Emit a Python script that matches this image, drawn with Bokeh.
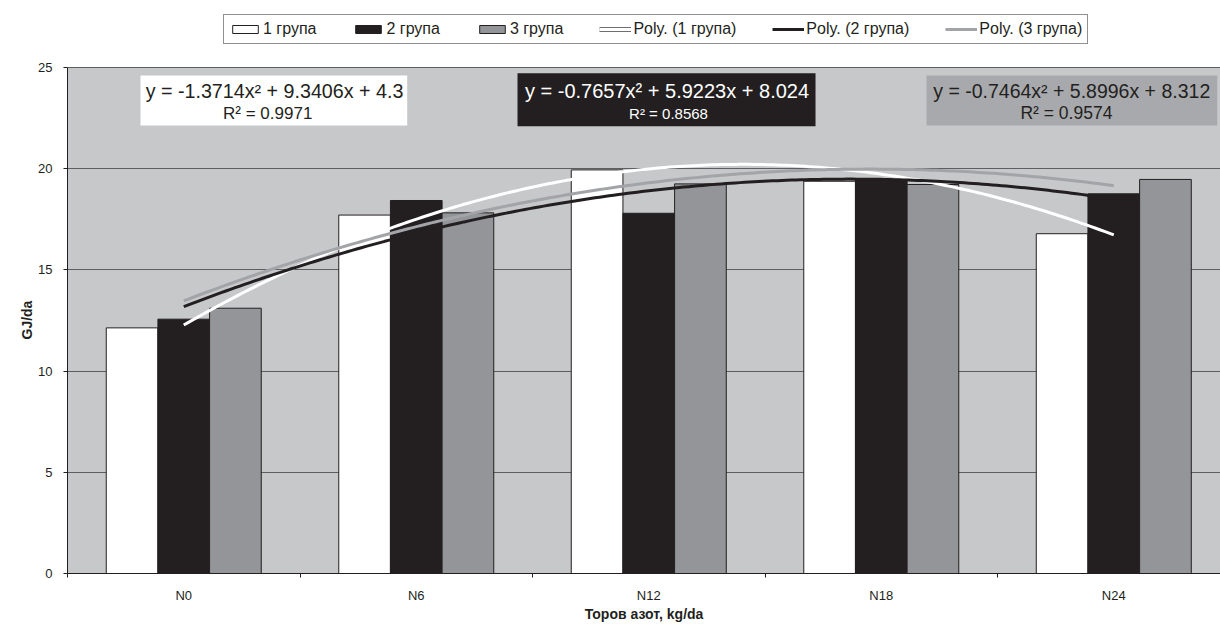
import numpy as np
from bokeh.plotting import figure
from bokeh.models import (Range1d, FixedTicker, Legend, LegendItem,
                          BoxAnnotation, Label, Title)
from bokeh.embed import file_html
from bokeh.resources import INLINE

# ---------------- data ----------------
categories = ["N0", "N6", "N12", "N18", "N24"]
series_names = ["1 група", "2 група", "3 група"]
group1 = [12.13, 17.70, 19.93, 19.37, 16.78]
group2 = [12.56, 18.42, 17.79, 19.44, 18.75]
group3 = [13.10, 17.81, 19.24, 19.21, 19.46]
# polynomial trend lines (a*x^2 + b*x + c, x = category number 1..5)
trend1 = [-1.3714, 9.3406, 4.3]
trend2 = [-0.7657, 5.9223, 8.024]
trend3 = [-0.7464, 5.8996, 8.312]
r_squared = [0.9971, 0.8568, 0.9574]
y_ticks = [0, 5, 10, 15, 20, 25]

# ---------------- styles ----------------
BG = "#c7c8ca"
DARK = "#231f20"
GRID = "#5d5e60"
BAR_COLORS = ["#ffffff", "#231f20", "#939598"]
LINE_COLORS = ["#ffffff", "#231f20", "#a2a4a7"]
FONT = "Liberation Sans"

n = len(categories)
bar_w = 1 / 4.5
centers = np.arange(n) + 0.5
Y_MAX = y_ticks[-1]
# frame spans whole page height down to the x axis; extra headroom holds the legend
Y_TOP = 573 / 20.25

p = figure(width=1220, height=630,
           x_range=Range1d(0, 4.959), y_range=Range1d(0, Y_TOP),
           output_backend="svg", toolbar_location=None,
           min_border_left=67, min_border_right=0,
           min_border_top=0, min_border_bottom=57,
           background_fill_color="white", border_fill_color="white",
           outline_line_color=None)

# grey plot area (0..25)
p.add_layout(BoxAnnotation(bottom=0, top=Y_MAX, fill_color=BG, fill_alpha=1,
                           line_color=None, level="image"))

# axes
p.xaxis.ticker = FixedTicker(ticks=list(centers), minor_ticks=list(range(n + 1)))
p.xaxis.major_label_overrides = {float(c): lab for c, lab in zip(centers, categories)}
p.xaxis.major_tick_out = 0
p.xaxis.major_tick_in = 0
p.xaxis.minor_tick_out = 4
p.xaxis.minor_tick_in = 0
p.xaxis.minor_tick_line_color = DARK
p.xaxis.major_label_standoff = 10
p.xaxis.axis_label = "Торов азот, kg/da"
p.xaxis.axis_label_standoff = 0

p.yaxis.ticker = FixedTicker(ticks=y_ticks)
p.yaxis.bounds = (0, Y_MAX)
p.yaxis.major_tick_out = 4
p.yaxis.major_tick_in = 0
p.yaxis.minor_tick_line_color = None
p.yaxis.major_label_standoff = 11

for ax in (p.xaxis[0], p.yaxis[0]):
    ax.axis_line_color = DARK
    ax.major_tick_line_color = DARK
    ax.major_label_text_font = FONT
    ax.major_label_text_font_size = "13px"
    ax.major_label_text_color = DARK
    ax.axis_label_text_font = FONT
    ax.axis_label_text_font_size = "14px"
    ax.axis_label_text_font_style = "bold"
    ax.axis_label_text_color = DARK

# y axis title, started from the bottom so that it is centred on 0..25
p.add_layout(Title(text="GJ/da", align="left", offset=234, standoff=2,
                   text_font=FONT, text_font_size="14px",
                   text_font_style="bold", text_color=DARK), "left")

p.xgrid.visible = False
p.ygrid.ticker = FixedTicker(ticks=y_ticks)
p.ygrid.grid_line_color = GRID
p.ygrid.grid_line_width = 1

# bars
bar_renderers = []
for k, vals in enumerate([group1, group2, group3]):
    r = p.vbar(x=centers + (k - 1) * bar_w, top=vals, bottom=0, width=bar_w,
               fill_color=BAR_COLORS[k], line_color=DARK, line_width=1)
    bar_renderers.append(r)

# trend lines
t = np.linspace(1, n, 200)
curves = []
line_renderers = []
for k, (a, b, c) in enumerate([trend1, trend2, trend3]):
    yv = a * t ** 2 + b * t + c
    curves.append(yv)
    r = p.line(x=t - 0.5, y=yv, line_color=LINE_COLORS[k], line_width=3)
    line_renderers.append(r)

# outline for the white legend line (single point -> nothing drawn in the plot)
outline = p.line(x=[t[0] - 0.5], y=[curves[0][0]], line_color="#6d6e70", line_width=5)

items = [LegendItem(label=series_names[k], renderers=[bar_renderers[k]]) for k in range(3)]
items.append(LegendItem(label=f"Poly. ({series_names[0]})", renderers=[outline, line_renderers[0]]))
items.append(LegendItem(label=f"Poly. ({series_names[1]})", renderers=[line_renderers[1]]))
items.append(LegendItem(label=f"Poly. ({series_names[2]})", renderers=[line_renderers[2]]))

legend = Legend(items=items, orientation="horizontal", location=(156, 529),
                margin=0, padding=5, spacing=36,
                glyph_width=32, glyph_height=10, label_standoff=2,
                label_height=18, label_width=10,
                label_text_font=FONT, label_text_font_size="16px",
                label_text_color=DARK,
                border_line_color=DARK, border_line_width=1,
                background_fill_color="white", background_fill_alpha=1)
p.add_layout(legend)

# equation boxes (position in data units: x in category widths, y in GJ/da)
px = lambda v: (v - 67) / 232.5
py = lambda v: (573 - v) / 20.25
boxes = [
    dict(l=140, r=406.7, t=75, b=125, fill="#ffffff", txt=DARK,
         l1=(274, 90, "19.7px"), l2=(267.2, 112.7, "17px")),
    dict(l=517, r=815, t=72.7, b=125.7, fill=DARK, txt="#ffffff",
         l1=(666.5, 90.7, "20px"), l2=(668, 112.7, "15px")),
    dict(l=926, r=1216.7, t=75, b=125, fill="#a7a9ac", txt=DARK,
         l1=(1071.2, 90.7, "19.5px"), l2=(1065.9, 112.7, "17.5px")),
]
for k, (bx, coef) in enumerate(zip(boxes, [trend1, trend2, trend3])):
    a, b, c = coef
    p.add_layout(BoxAnnotation(left=px(bx["l"]), right=px(bx["r"]),
                               top=py(bx["t"]), bottom=py(bx["b"]),
                               fill_color=bx["fill"], fill_alpha=1,
                               line_color=None))
    eq = f"y = {a:g}x² + {b:g}x + {c:g}"
    r2 = f"R² = {r_squared[k]:g}"
    for (cx, cy, fs), txt in [(bx["l1"], eq), (bx["l2"], r2)]:
        p.add_layout(Label(x=px(cx), y=py(cy), text=txt,
                           text_align="center", text_baseline="middle",
                           text_font=FONT, text_font_size=fs,
                           text_color=bx["txt"]))

open("out.html", "w").write(file_html(p, INLINE))
